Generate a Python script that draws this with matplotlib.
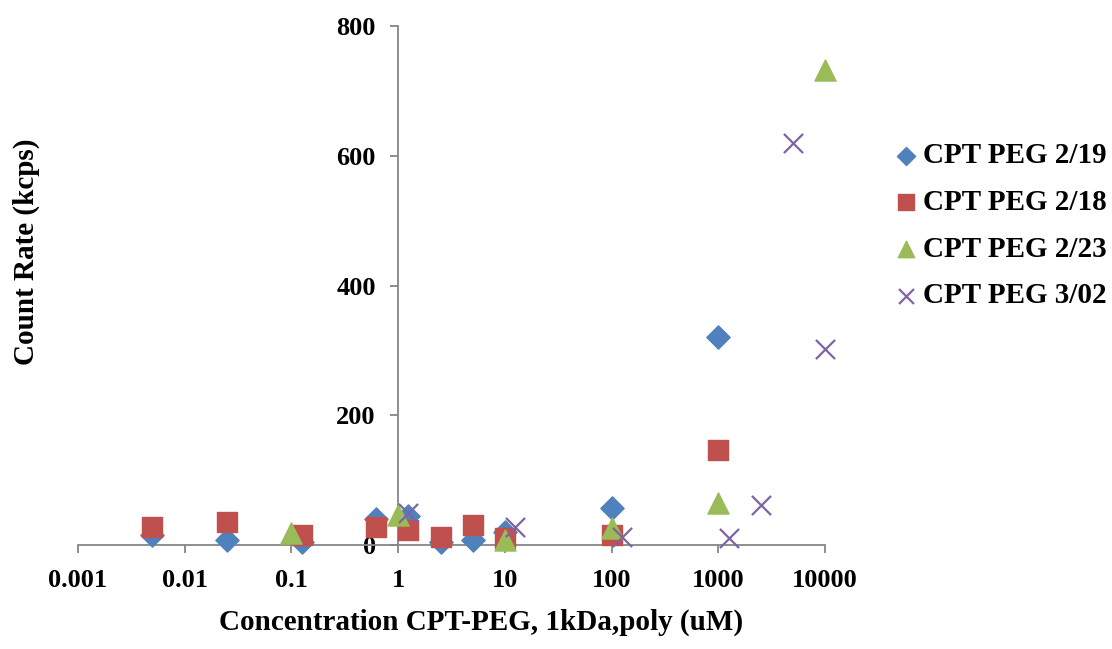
import matplotlib
matplotlib.use("Agg")
import matplotlib.pyplot as plt
import matplotlib.ticker as mtick

# data
conc_219 = [0.005, 0.025, 0.125, 0.625, 1.25, 2.5, 5, 10, 100, 1000]
rate_219 = [15, 8, 5, 40, 45, 5, 8, 20, 57, 320]

conc_218 = [0.005, 0.025, 0.125, 0.625, 1.25, 2.5, 5, 10, 100, 1000]
rate_218 = [28, 35, 15, 28, 23, 12, 31, 11, 15, 146]

conc_223 = [0.1, 1, 10, 100, 1000, 10000]
rate_223 = [18, 46, 8, 26, 65, 732]

conc_302 = [1.25, 12.5, 125, 1250, 2500, 5000, 10000]
rate_302 = [49, 28, 12, 11, 62, 619, 303]

x_ticks = [0.001, 0.01, 0.1, 1, 10, 100, 1000, 10000]
x_ticklabels = ["0.001", "0.01", "0.1", "1", "10", "100", "1000", "10000"]
y_ticks = [0, 200, 400, 600, 800]

plt.rcParams['font.family'] = ['Liberation Serif', 'DejaVu Serif']
plt.rcParams['font.weight'] = 'bold'

fig = plt.figure(figsize=(11.12, 6.49), dpi=100)
ax = fig.add_axes([0.070, 0.160, 0.672, 0.800])

ax.scatter(conc_219, rate_219, marker='D', s=140, color='#4F81BD', label='CPT PEG 2/19',
           zorder=3, clip_on=False)
ax.scatter(conc_218, rate_218, marker='s', s=210, color='#C0504D', label='CPT PEG 2/18',
           zorder=3, clip_on=False)
ax.scatter(conc_223, rate_223, marker='^', s=230, color='#9BBB59', label='CPT PEG 2/23',
           zorder=3, clip_on=False)
ax.scatter(conc_302, rate_302, marker='x', s=190, color='#8064A2', linewidths=1.6,
           label='CPT PEG 3/02', zorder=3, clip_on=False)

ax.set_xscale('log')
ax.set_xlim(0.001, 10000)
ax.set_ylim(0, 800)
ax.set_xticks(x_ticks)
ax.set_xticklabels(x_ticklabels)
ax.xaxis.set_minor_locator(mtick.NullLocator())
ax.set_yticks(y_ticks)

grey = '#868686'
ax.spines['left'].set_position(('data', 1))
ax.spines['top'].set_visible(False)
ax.spines['right'].set_visible(False)
for sp in ('left', 'bottom'):
    ax.spines[sp].set_color(grey)
    ax.spines[sp].set_linewidth(1.3)
ax.tick_params(axis='both', colors=grey, length=6, width=1.3, labelsize=19,
               labelcolor='black')
ax.tick_params(axis='x', pad=11)
ax.tick_params(axis='y', pad=10)
for lbl in ax.get_xticklabels() + ax.get_yticklabels():
    lbl.set_fontweight('bold')

ax.set_xlabel("Concentration CPT-PEG, 1kDa,poly (uM)", fontsize=21, fontweight='bold')
ax.set_ylabel("Count Rate (kcps)", fontsize=21, fontweight='bold')
ax.xaxis.set_label_coords(0.5395, -0.122)
ax.yaxis.set_label_coords(-0.051, 0.565)

fig.legend(loc='upper left', bbox_to_anchor=(0.7907, 0.803), frameon=False,
           prop={'size': 21, 'weight': 'bold'}, labelspacing=0.675, borderpad=0,
           handlelength=0.8, handletextpad=0.2, scatterpoints=1, markerscale=0.78)

fig.savefig("out.png", dpi=100)
